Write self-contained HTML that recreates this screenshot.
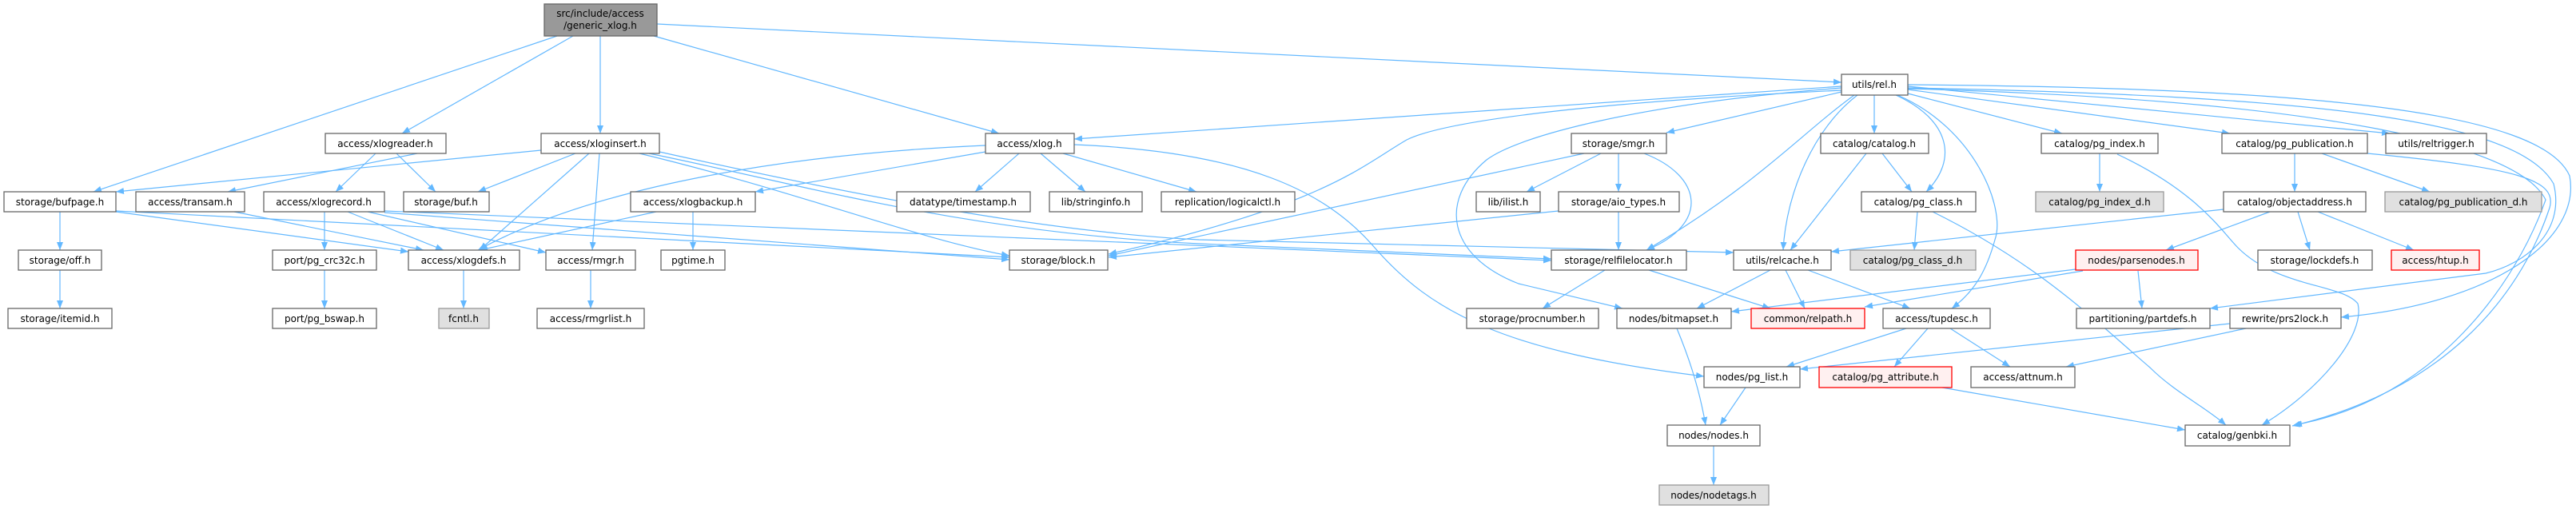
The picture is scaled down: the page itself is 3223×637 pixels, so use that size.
<!DOCTYPE html>
<html><head><meta charset="utf-8"><style>
html,body{margin:0;padding:0;background:#fff;}
svg{display:block;}
text{font-family:"DejaVu Sans","Liberation Sans",sans-serif;font-size:12px;fill:#000;text-anchor:middle;dominant-baseline:central;}
.e{fill:none;stroke:#63b8ff;stroke-width:1.2;marker-end:url(#a);}
.n{fill:#fff;stroke:#666;stroke-width:1.3;}
.g{fill:#e0e0e0;stroke:#999;stroke-width:1.3;}
.r{fill:#fff0f0;stroke:#ff0000;stroke-width:1.3;}
.root{fill:#999;stroke:#666;stroke-width:1.3;}
</style></head><body>
<svg width="3223" height="637" viewBox="0 0 3223 637" xmlns="http://www.w3.org/2000/svg">
<defs><marker id="a" markerUnits="userSpaceOnUse" markerWidth="11" markerHeight="8" refX="10" refY="4" orient="auto"><path d="M0,0 L10,4 L0,8 z" fill="#63b8ff"/></marker></defs>
<g>
<path class="e" d="M697 45 L117 240"/>
<path class="e" d="M717 45 L503 167"/>
<path class="e" d="M751 45 L751 167"/>
<path class="e" d="M818 45 L1250 167"/>
<path class="e" d="M822 30 L2304 103"/>
<path class="e" d="M522 192 L285 240"/>
<path class="e" d="M470 192 L420 240"/>
<path class="e" d="M496 192 L545 240"/>
<path class="e" d="M677 188 L145 240"/>
<path class="e" d="M720 192 L598 240"/>
<path class="e" d="M737 192 L600 313"/>
<path class="e" d="M750 192 L741 313"/>
<path class="e" d="M800 192 C1000 240,1150 300,1263 320"/>
<path class="e" d="M812 192 C1000 230,1200 290,1500 305 L1941 324"/>
<path class="e" d="M825 190 C1050 240,1300 290,1500 300 L2169 316"/>
<path class="e" d="M406 265 L406 313"/>
<path class="e" d="M435 265 L555 313"/>
<path class="e" d="M460 265 L683 316"/>
<path class="e" d="M481 266 L1263 325"/>
<path class="e" d="M481 264 L1941 326"/>
<path class="e" d="M75 265 L75 313"/>
<path class="e" d="M75 338 L75 386"/>
<path class="e" d="M145 265 L511 315"/>
<path class="e" d="M145 264 L1263 322"/>
<path class="e" d="M293 265 L530 313"/>
<path class="e" d="M580 338 L580 386"/>
<path class="e" d="M739 338 L739 386"/>
<path class="e" d="M406 338 L406 386"/>
<path class="e" d="M821 265 L600 313"/>
<path class="e" d="M867 265 L867 313"/>
<path class="e" d="M1233 182 C1000 192,750 230,598 313"/>
<path class="e" d="M1233 190 L945 240"/>
<path class="e" d="M1275 192 L1220 240"/>
<path class="e" d="M1302 192 L1358 240"/>
<path class="e" d="M1330 192 L1497 240"/>
<path class="e" d="M1344 181 C1560 190,1660 240,1720 310 C1790 390,1880 440,2132 471"/>
<path class="e" d="M2304 108 L1344 174"/>
<path class="e" d="M2304 113 C1950 130,1800 155,1760 175 C1700 210,1660 255,1387 318"/>
<path class="e" d="M1982 192 L1387 320"/>
<path class="e" d="M1950 264 L1387 322"/>
<path class="e" d="M2320 119 C2250 170,2200 230,2060 313"/>
<path class="e" d="M2304 110 C2050 130,1900 170,1860 200 C1800 250,1810 320,1900 355 L2030 386"/>
<path class="e" d="M2304 115 L2085 166"/>
<path class="e" d="M2345 119 L2345 167"/>
<path class="e" d="M2372 119 C2440 150,2450 200,2410 240"/>
<path class="e" d="M2324 119 C2270 160,2235 240,2231 313"/>
<path class="e" d="M2374 119 C2470 160,2510 260,2496 300 C2485 340,2470 365,2442 386"/>
<path class="e" d="M2387 117 L2580 167"/>
<path class="e" d="M2387 112 L2790 167"/>
<path class="e" d="M2387 108 L2990 167"/>
<path class="e" d="M2387 110 C2900 120,3150 150,3195 230 C3210 290,3160 330,3110 342 L2765 386"/>
<path class="e" d="M2387 106 C2900 110,3180 140,3215 220 C3230 300,3120 380,2929 397"/>
<path class="e" d="M2387 111 C2900 125,3150 180,3185 250 C3150 350,3050 500,2870 532"/>
<path class="e" d="M2962 192 C3150 210,3200 225,3190 260 C3150 380,3050 490,2868 533"/>
<path class="e" d="M2355 192 L2392 240"/>
<path class="e" d="M2335 192 L2240 313"/>
<path class="e" d="M2399 265 L2395 313"/>
<path class="e" d="M2418 265 C2550 330,2620 400,2690 460 C2720 490,2760 510,2785 532"/>
<path class="e" d="M2627 192 L2627 240"/>
<path class="e" d="M2649 193 C2750 240,2780 290,2800 310 C2850 360,2930 355,2950 380 C2960 420,2900 490,2830 532"/>
<path class="e" d="M2871 192 L2871 240"/>
<path class="e" d="M2905 192 L3040 240"/>
<path class="e" d="M2782 262 L2291 315"/>
<path class="e" d="M2840 265 L2710 313"/>
<path class="e" d="M2875 265 L2890 313"/>
<path class="e" d="M2900 265 L3020 313"/>
<path class="e" d="M2008 338 L1930 386"/>
<path class="e" d="M2063 338 L2215 386"/>
<path class="e" d="M2215 338 L2123 386"/>
<path class="e" d="M2234 338 L2258 386"/>
<path class="e" d="M2262 338 L2390 386"/>
<path class="e" d="M2597 337 L2166 390"/>
<path class="e" d="M2606 339 L2333 384"/>
<path class="e" d="M2675 339 L2680 386"/>
<path class="e" d="M2790 405 L2252 462"/>
<path class="e" d="M2810 411 L2585 459"/>
<path class="e" d="M2385 411 L2235 459"/>
<path class="e" d="M2412 411 L2370 459"/>
<path class="e" d="M2440 411 L2515 459"/>
<path class="e" d="M2430 485 L2734 538"/>
<path class="e" d="M2098 411 C2110 440,2125 480,2134 532"/>
<path class="e" d="M2184 485 L2152 532"/>
<path class="e" d="M2144 558 L2144 607"/>
<path class="e" d="M2003 192 L1910 240"/>
<path class="e" d="M2025 192 L2025 240"/>
<path class="e" d="M2057 192 C2130 220,2140 280,2060 313"/>
<path class="e" d="M2025 265 L2025 313"/>
</g>
<g>
<rect class="root" x="681" y="5" width="141" height="40"/><text x="751" y="17">src/include/access</text><text x="751" y="32">/generic_xlog.h</text>
<rect class="n" x="2304" y="93" width="83" height="26"/><text x="2345" y="106">utils/rel.h</text>
<rect class="n" x="407" y="167" width="151" height="25"/><text x="482" y="180">access/xlogreader.h</text>
<rect class="n" x="677" y="167" width="148" height="25"/><text x="751" y="180">access/xloginsert.h</text>
<rect class="n" x="1233" y="167" width="111" height="25"/><text x="1288" y="180">access/xlog.h</text>
<rect class="n" x="1966" y="167" width="119" height="25"/><text x="2025" y="180">storage/smgr.h</text>
<rect class="n" x="2278" y="167" width="135" height="25"/><text x="2345" y="180">catalog/catalog.h</text>
<rect class="n" x="2554" y="167" width="146" height="25"/><text x="2627" y="180">catalog/pg_index.h</text>
<rect class="n" x="2780" y="167" width="182" height="25"/><text x="2871" y="180">catalog/pg_publication.h</text>
<rect class="n" x="2985" y="167" width="126" height="25"/><text x="3048" y="180">utils/reltrigger.h</text>
<rect class="n" x="5" y="240" width="140" height="25"/><text x="75" y="253">storage/bufpage.h</text>
<rect class="n" x="170" y="240" width="136" height="25"/><text x="238" y="253">access/transam.h</text>
<rect class="n" x="330" y="240" width="151" height="25"/><text x="405" y="253">access/xlogrecord.h</text>
<rect class="n" x="505" y="240" width="107" height="25"/><text x="558" y="253">storage/buf.h</text>
<rect class="n" x="789" y="240" width="156" height="25"/><text x="867" y="253">access/xlogbackup.h</text>
<rect class="n" x="1122" y="240" width="167" height="25"/><text x="1205" y="253">datatype/timestamp.h</text>
<rect class="n" x="1313" y="240" width="116" height="25"/><text x="1371" y="253">lib/stringinfo.h</text>
<rect class="n" x="1453" y="240" width="167" height="25"/><text x="1536" y="253">replication/logicalctl.h</text>
<rect class="n" x="1847" y="240" width="80" height="25"/><text x="1887" y="253">lib/ilist.h</text>
<rect class="n" x="1950" y="240" width="151" height="25"/><text x="2025" y="253">storage/aio_types.h</text>
<rect class="n" x="2329" y="240" width="143" height="25"/><text x="2400" y="253">catalog/pg_class.h</text>
<rect class="g" x="2547" y="240" width="160" height="25"/><text x="2627" y="253">catalog/pg_index_d.h</text>
<rect class="n" x="2782" y="240" width="178" height="25"/><text x="2871" y="253">catalog/objectaddress.h</text>
<rect class="g" x="2984" y="240" width="196" height="25"/><text x="3082" y="253">catalog/pg_publication_d.h</text>
<rect class="n" x="23" y="313" width="104" height="25"/><text x="75" y="326">storage/off.h</text>
<rect class="n" x="341" y="313" width="130" height="25"/><text x="406" y="326">port/pg_crc32c.h</text>
<rect class="n" x="511" y="313" width="139" height="25"/><text x="580" y="326">access/xlogdefs.h</text>
<rect class="n" x="683" y="313" width="112" height="25"/><text x="739" y="326">access/rmgr.h</text>
<rect class="n" x="827" y="313" width="80" height="25"/><text x="867" y="326">pgtime.h</text>
<rect class="n" x="1263" y="313" width="123" height="25"/><text x="1324" y="326">storage/block.h</text>
<rect class="n" x="1941" y="313" width="169" height="25"/><text x="2025" y="326">storage/relfilelocator.h</text>
<rect class="n" x="2169" y="313" width="122" height="25"/><text x="2230" y="326">utils/relcache.h</text>
<rect class="g" x="2315" y="313" width="157" height="25"/><text x="2393" y="326">catalog/pg_class_d.h</text>
<rect class="r" x="2597" y="313" width="153" height="25"/><text x="2673" y="326">nodes/parsenodes.h</text>
<rect class="n" x="2825" y="313" width="143" height="25"/><text x="2896" y="326">storage/lockdefs.h</text>
<rect class="r" x="2992" y="313" width="110" height="25"/><text x="3047" y="326">access/htup.h</text>
<rect class="n" x="10" y="386" width="130" height="25"/><text x="75" y="399">storage/itemid.h</text>
<rect class="n" x="341" y="386" width="130" height="25"/><text x="406" y="399">port/pg_bswap.h</text>
<rect class="g" x="549" y="386" width="63" height="25"/><text x="580" y="399">fcntl.h</text>
<rect class="n" x="672" y="386" width="134" height="25"/><text x="739" y="399">access/rmgrlist.h</text>
<rect class="n" x="1835" y="386" width="165" height="25"/><text x="1917" y="399">storage/procnumber.h</text>
<rect class="n" x="2023" y="386" width="143" height="25"/><text x="2094" y="399">nodes/bitmapset.h</text>
<rect class="r" x="2191" y="386" width="142" height="25"/><text x="2262" y="399">common/relpath.h</text>
<rect class="n" x="2356" y="386" width="134" height="25"/><text x="2423" y="399">access/tupdesc.h</text>
<rect class="n" x="2598" y="386" width="167" height="25"/><text x="2681" y="399">partitioning/partdefs.h</text>
<rect class="n" x="2790" y="386" width="139" height="25"/><text x="2859" y="399">rewrite/prs2lock.h</text>
<rect class="n" x="2132" y="459" width="120" height="26"/><text x="2192" y="472">nodes/pg_list.h</text>
<rect class="r" x="2276" y="459" width="166" height="26"/><text x="2359" y="472">catalog/pg_attribute.h</text>
<rect class="n" x="2466" y="459" width="130" height="26"/><text x="2531" y="472">access/attnum.h</text>
<rect class="n" x="2086" y="532" width="116" height="26"/><text x="2144" y="545">nodes/nodes.h</text>
<rect class="n" x="2734" y="532" width="131" height="26"/><text x="2799" y="545">catalog/genbki.h</text>
<rect class="g" x="2076" y="607" width="137" height="25"/><text x="2144" y="620">nodes/nodetags.h</text>
</g>
</svg>
</body></html>
